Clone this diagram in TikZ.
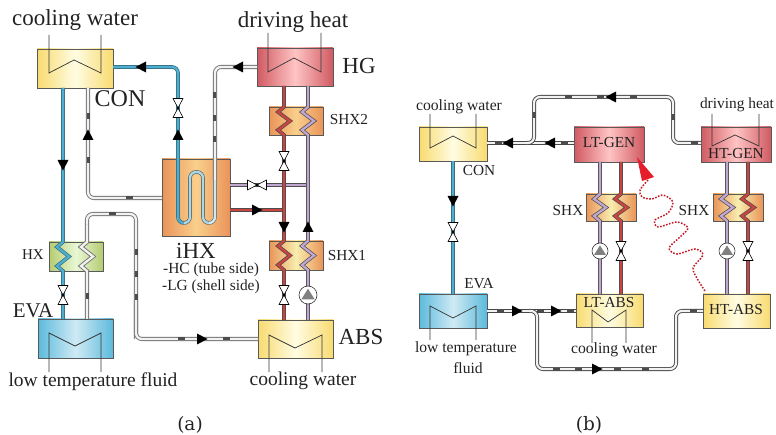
\documentclass[tikz,border=0pt]{standalone}
\usepackage{fontspec}
\setmainfont{Liberation Serif}
\newfontfamily\capfont{DejaVu Serif}
\definecolor{txt}{HTML}{222222}
\definecolor{yfn}{HTML}{F8DB70}\definecolor{yfm}{HTML}{FFFCE2}
\definecolor{rdn}{HTML}{D05A62}\definecolor{rdm}{HTML}{FFC4C4}
\definecolor{orn}{HTML}{EA9458}\definecolor{orm}{HTML}{F9CF8C}\definecolor{ocm}{HTML}{F8EDAE}
\definecolor{gnn}{HTML}{B5CB70}\definecolor{gnm}{HTML}{E8F8D6}
\definecolor{bln}{HTML}{5CBADC}\definecolor{blm}{HTML}{CFEAF4}
\definecolor{pblue}{HTML}{4FAED0}\definecolor{pred}{HTML}{CC4440}\definecolor{ppur}{HTML}{C0A6D0}
\definecolor{pbluedk}{HTML}{35707F}\definecolor{radred}{HTML}{E61E2B}
\tikzset{
  box/.style={draw=black!65,line width=.7pt,inner sep=0pt,outer sep=0pt},
  yel/.style={left color=yfn,right color=yfn,middle color=yfm},
  redb/.style={left color=rdn,right color=rdn,middle color=rdm},
  orb/.style={left color=orn,right color=orn,middle color=orm},
  orc/.style={left color=orn,right color=orn,middle color=ocm},
  grb/.style={left color=gnn,right color=gnn,middle color=gnm},
  blb/.style={left color=bln,right color=bln,middle color=blm},
  pipe/.style={line width=.7pt,double distance=2.3pt},
  bluepipe/.style={pipe,draw=pbluedk,double=pblue},
  redpipe/.style={pipe,draw=black!70,double=pred},
  purplepipe/.style={pipe,draw=black!70,double=ppur},
  graypipe/.style={line width=.9pt,double distance=2.3pt,draw=black!55,double=black!5},
  graypipeb/.style={line width=.9pt,double distance=2.2pt,draw=black!72,double=black!5},
  turn/.style={rounded corners=6pt},
  coilline/.style={draw=black!80,line width=.7pt},
  lab/.style={text=txt,inner sep=0pt},
  arrowfill/.style={fill=black},
  blobfill/.style={fill=black!70},
  valveshape/.style={draw=black,fill=white,line width=.6pt,line join=miter},
}
\newcommand\bx[6]{\node[box,#6,minimum width={(#4-#2)*1pt},minimum height={(#5-#3)*1pt}] (#1) at ({(#2+#4)/2},{(#3+#5)/2}) {};}
\newcommand\coil[6]{\draw[coilline] (#1,#4) -- (#1,#5) -- (#2,#6) -- (#3,#5) -- (#3,#4);}
\newcommand\zz[3]{-- (#1,#2) -- (#1-6,#2+5) -- (#1+6,{(#2+#3)/2}) -- (#1-6,#3-5) -- (#1,#3)}
\newcommand\arrR[2]{\fill[arrowfill] (#1+5.5,#2) -- (#1-5,#2-5.5) -- (#1-5,#2+5.5) -- cycle;}
\newcommand\arrL[2]{\fill[arrowfill] (#1-5.5,#2) -- (#1+5,#2-5.5) -- (#1+5,#2+5.5) -- cycle;}
\newcommand\arrU[2]{\fill[arrowfill] (#1,#2-5.5) -- (#1-5.5,#2+5) -- (#1+5.5,#2+5) -- cycle;}
\newcommand\arrD[2]{\fill[arrowfill] (#1,#2+5.5) -- (#1-5.5,#2-5) -- (#1+5.5,#2-5) -- cycle;}
\newcommand\valveV[2]{\draw[valveshape] (#1-5,#2-9.5) -- (#1+5,#2-9.5) -- (#1-5,#2+9.5) -- (#1+5,#2+9.5) -- cycle;\fill[black] (#1,#2) circle (1.3pt);}
\newcommand\valveH[2]{\draw[valveshape] (#1-9.5,#2-5) -- (#1-9.5,#2+5) -- (#1+9.5,#2-5) -- (#1+9.5,#2+5) -- cycle;\fill[black] (#1,#2) circle (1.3pt);}
\newcommand\pump[3]{\draw[fill=white,draw=black!80,line width=.6pt] (#1,#2) circle (#3pt);\fill[black!50] (#1,#2-#3*.7) -- (#1+#3*.75,#2+#3*.5) -- (#1-#3*.75,#2+#3*.5) -- cycle;}
\newcommand\blobV[2]{\fill[blobfill] (#1-1.5,#2-3) rectangle (#1+1.5,#2+3);}
\newcommand\blobH[2]{\fill[blobfill] (#1-3.5,#2-1.5) rectangle (#1+3.5,#2+1.5);}
\newcommand\fs[1]{\fontsize{#1}{#1}\selectfont}
\begin{document}
\begin{tikzpicture}[x=1pt,y=-1pt]
\useasboundingbox (0,0) rectangle (776,435);
% ===== panel (a) boxes
\bx{conA}{37}{49}{113}{88}{yel}
\bx{hgA}{257}{48}{333}{86}{redb}
\bx{shxtwoA}{269}{107}{323}{135}{orb}
\bx{ihxA}{162}{159}{230}{236}{orb}
\bx{shxoneA}{269}{241}{323}{270}{orc}
\bx{hxA}{49}{242}{103}{271}{grb}
\bx{evaA}{38}{319}{113}{358}{blb}
\bx{absA}{258}{320}{333}{358}{yel}
\coil{49}{74}{101}{35}{73}{60}
\coil{268}{294}{321}{33}{72}{58}
\coil{49}{75}{101}{372}{333}{346}
\coil{269}{295}{322}{372}{335}{348}
% pipes (a)
\draw[bluepipe,turn] (conA.east |- 0,67) -- (178,67) -- (178,223) -- (184,223);
\draw[pipe,draw=black!60,double=blm!70!pblue,turn] (184,223) -- (190,223) -- (190,172) -- (203,172) -- (203,223) -- (209,223);
\draw[pipe,draw=black!55,double=blm,turn] (209,223) -- (215,223) -- (215,180);
\draw[graypipe,turn] (215,180) -- (215,67) -- (hgA.west |- 0,67);
\draw[graypipe,turn] (88,0 |- conA.south) -- (88,198) -- (ihxA.west |- 0,198);
\draw[bluepipe] (63,0 |- conA.south) \zz{63}{242}{271} -- (63,0 |- evaA.north);
\draw[graypipe,turn] (136,339) -- (136,214) -- (87,214) -- (87,225);
\draw[graypipe] (87,225) \zz{87}{242}{271} -- (87,0 |- evaA.north);
\draw[graypipe,turn] (136,300) -- (136,339) -- (absA.west |- 0,339);
\draw[purplepipe] (ihxA.east |- 0,185) -- (308,185);
\draw[purplepipe] (308,0 |- hgA.south) \zz{308}{107}{135} \zz{308}{241}{270} -- (308,0 |- absA.north);
\draw[redpipe] (ihxA.east |- 0,210) -- (284,210);
\draw[redpipe] (284,0 |- hgA.south) \zz{284}{107}{135} \zz{284}{241}{270} -- (284,0 |- absA.north);
% fittings (a)
\arrL{141}{67}\arrU{178}{135}\arrD{63}{165}\arrU{88}{135}\arrL{238}{67}
\arrR{257}{210}\arrD{284}{227}\arrU{308}{227}\arrR{202}{339}
\valveV{178}{108}\valveV{284}{161}\valveH{257}{185}\valveV{284}{295}\valveV{63}{295}
\pump{308}{295}{9}
\blobV{88}{116}\blobV{88}{160}\blobH{129}{198}
\blobV{214}{95}\blobV{214}{118}\blobV{214}{139}
\blobV{87}{296}\blobH{112}{214}\blobV{136}{252}\blobV{136}{274}\blobV{136}{297}\blobH{181}{339}\blobH{226}{339}
% text (a)
\node[lab] (t1) at (75,20) {\fs{23}cooling water};
\node[lab] (t2) at (293,22) {\fs{23}driving heat};
\node[lab] (t3) at (359,66) {\fs{23}HG};
\node[lab] (t4) at (120,99) {\fs{24}CON};
\node[lab] (t5) at (349,120) {\fs{15.3}SHX2};
\node[lab] (t6) at (347,256) {\fs{15.3}SHX1};
\node[lab] (t7) at (33,255) {\fs{15}HX};
\node[lab] (t8) at (196,251) {\fs{23}iHX};
\node[lab,anchor=west] (t9) at (163,270) {\fs{15.4}-HC (tube side)};
\node[lab,anchor=west] (t10) at (162,287) {\fs{15.4}-LG (shell side)};
\node[lab] (t11) at (33,311) {\fs{21}EVA};
\node[lab] (t12) at (361,337) {\fs{23}ABS};
\node[lab] (t13) at (93,382) {\fs{19.5}low temperature fluid};
\node[lab] (t14) at (303,381) {\fs{19.5}cooling water};
\node[lab] (capa) at (190,425) {\capfont\fs{18.5}(a)};
% ===== panel (b) boxes
\bx{conB}{419}{127}{487}{161}{yel}
\bx{evaB}{419}{294}{487}{328}{blb}
\bx{ltgen}{574}{127}{644}{162}{redb}
\bx{htgen}{701}{127}{771}{162}{redb}
\bx{shxl}{586}{194}{636}{221}{orc}
\bx{shxr}{713}{194}{763}{221}{orc}
\bx{ltabs}{576}{294}{643}{327}{yel}
\bx{htabs}{703}{294}{770}{328}{yel}
\coil{430}{453}{476}{114}{148}{136}
\coil{430}{453}{476}{340}{306}{318}
\coil{592}{608}{626}{343}{310}{322}
\coil{712}{735}{759}{114}{146}{135}
% pipes (b)
\draw[bluepipe] (453,0 |- conB.south) -- (453,0 |- evaB.north);
\draw[graypipeb] (ltgen.west |- 0,143) -- (conB.east |- 0,143);
\draw[graypipeb,turn] (htgen.west |- 0,143) -- (673,143) -- (673,97) -- (534,97) -- (534,143) -- (526,143);
\draw[graypipeb] (evaB.east |- 0,311) -- (ltabs.west |- 0,311);
\draw[graypipeb,turn] (529,311) -- (537,311) -- (537,369) -- (676,369) -- (676,311) -- (htabs.west |- 0,311);
\draw[purplepipe] (600,0 |- ltgen.south) \zz{600}{194}{221} -- (600,0 |- ltabs.north);
\draw[redpipe] (621,0 |- ltgen.south) \zz{621}{194}{221} -- (621,0 |- ltabs.north);
\draw[purplepipe] (727,0 |- htgen.south) \zz{727}{194}{221} -- (727,0 |- htabs.north);
\draw[redpipe] (748,0 |- htgen.south) \zz{748}{194}{221} -- (748,0 |- htabs.north);
% fittings (b)
\arrD{453}{201}\arrL{550}{143}\arrL{508}{143}\arrL{611}{97}
\arrR{517}{311}\arrR{556}{311}\arrR{597}{369}
\valveV{453}{232}\valveV{621}{251}\valveV{748}{251}
\pump{600}{251}{8}\pump{727}{251}{8}
\blobH{568}{97}\blobH{600}{97}\blobH{633}{97}\blobV{673}{117}\blobH{694}{143}\blobV{534}{115}
\blobH{498}{143}\blobH{564}{143}
\blobH{500}{311}\blobH{540}{311}\blobH{570}{311}\blobH{556}{369}\blobH{578}{369}\blobH{617}{369}\blobH{645}{369}\blobH{693}{311}
% red radiation
\fill[radred] (637,157) -- (642,181) -- (654,177) -- cycle;
\draw[radred!85!black,line width=1.5pt,dash pattern=on 1.6pt off 1.5pt] plot[smooth] coordinates {(648,180) (640,190) (642,197) (652,199) (663,195) (673,202) (668,213) (655,220) (658,227) (677,222) (688,228) (680,237) (669,248) (677,254) (695,249) (703,255) (693,268) (698,280) (705,291)};
% text (b)
\node[lab] (u1) at (459,107) {\fs{15.7}cooling water};
\node[lab] (u2) at (479,171) {\fs{15.3}CON};
\node[lab] (u3) at (479,284) {\fs{15.3}EVA};
\node[lab] (u4) at (466,349) {\fs{15.6}low temperature};
\node[lab] (u5) at (468,368) {\fs{15.6}fluid};
\node[lab] (u6) at (609,143) {\fs{15.3}LT-GEN};
\node[lab] (u7) at (736,154) {\fs{15.3}HT-GEN};
\node[lab] (u8) at (737,105) {\fs{15.4}driving heat};
\node[lab] (u9) at (568,211) {\fs{15.3}SHX};
\node[lab] (u10) at (694,211) {\fs{15.3}SHX};
\node[lab] (u11) at (609,303) {\fs{15.3}LT-ABS};
\node[lab] (u12) at (736,310) {\fs{15.3}HT-ABS};
\node[lab] (u13) at (614,350) {\fs{15.7}cooling water};
\node[lab] (capb) at (589,425) {\capfont\fs{18.5}(b)};
\end{tikzpicture}
\end{document}
